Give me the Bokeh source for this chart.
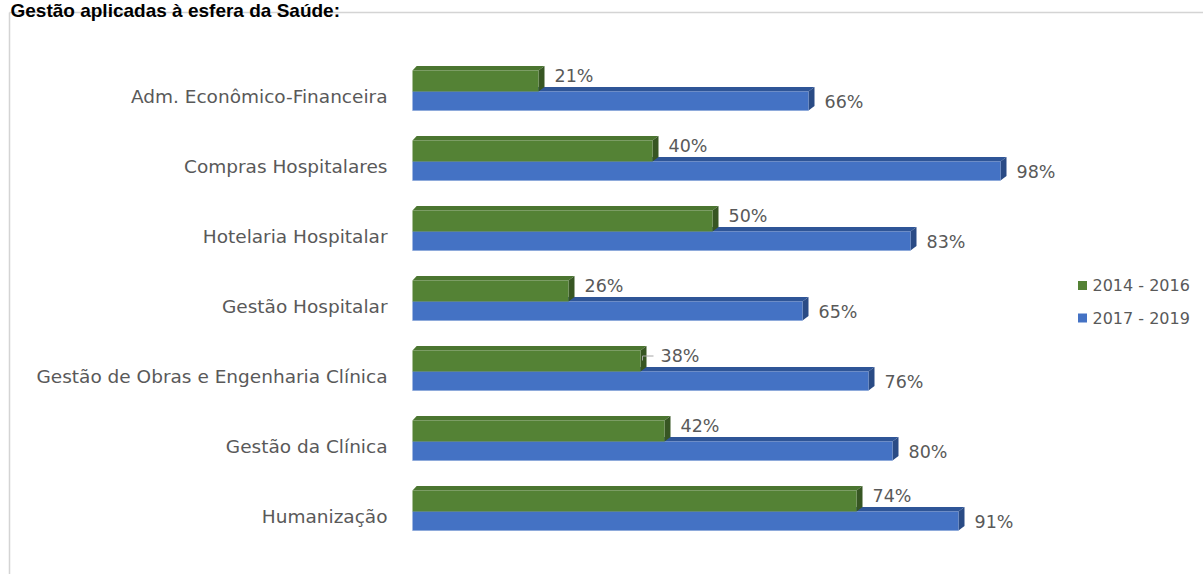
from bokeh.plotting import figure
from bokeh.models import Range1d
from bokeh.core.properties import value
from bokeh.embed import file_html
from bokeh.resources import INLINE

# ---- data ----
categories = [
    "Adm. Econômico-Financeira",
    "Compras Hospitalares",
    "Hotelaria Hospitalar",
    "Gestão Hospitalar",
    "Gestão de Obras e Engenharia Clínica",
    "Gestão da Clínica",
    "Humanização",
]
series_names = ["2014 - 2016", "2017 - 2019"]
values_2014_2016 = [21, 40, 50, 26, 38, 42, 74]
values_2017_2019 = [66, 98, 83, 65, 76, 80, 91]
title_text = "Gestão aplicadas à esfera da Saúde:"

# ---- layout constants (pixels) ----
W, H = 1203, 574
X0_PX = 412          # pixel of 0 %
PX_PER_PCT = 6.0
ROW0_PX = 96         # pixel centre of first category
ROW_PX = 70

GREEN = "#548235"
GREEN_TOP = "#4b7530"
GREEN_SIDE = "#375623"
BLUE = "#4472C4"
BLUE_TOP = "#2F5597"
BLUE_SIDE = "#2a4b85"
TEXT = "#595959"


def dx(px):
    return px / PX_PER_PCT


def dy(px):
    return px / ROW_PX


def X(px):
    return (px - X0_PX) / PX_PER_PCT


def Y(px):
    return (px - ROW0_PX) / ROW_PX


p = figure(width=W, height=H, output_backend="svg", toolbar_location=None,
           x_range=Range1d(X(0), X(W)), y_range=Range1d(Y(H), Y(0)),
           min_border=0)
p.axis.visible = False
p.grid.visible = False
p.outline_line_color = None
p.background_fill_color = "white"

# frame of the chart area
p.segment(x0=[X(9), X(9)], y0=[Y(12), Y(12)], x1=[X(9), X(W)], y1=[Y(H), Y(12)],
          line_color="#d4d4d4", line_width=1.5)

# title (partly cut off at the top)
p.text(x=[X(10)], y=[Y(10)], text=[title_text], text_font=value("Liberation Sans"),
       text_font_style="bold", text_font_size="19px", text_color="black",
       text_baseline="alphabetic", text_align="left")

DEPTH_X = dx(6)
DEPTH_Y = dy(-4.5)


def bar_3d(i, v, top_px, bot_px, front, topc, side):
    yt = i + dy(top_px)
    yb = i + dy(bot_px)
    xs_top = [0, v, v + DEPTH_X, DEPTH_X * 0.7]
    ys_top = [yt, yt, yt + DEPTH_Y, yt + DEPTH_Y]
    xs_side = [v, v + DEPTH_X, v + DEPTH_X, v]
    ys_side = [yt, yt + DEPTH_Y, yb + DEPTH_Y, yb]
    return (xs_top, ys_top, topc), (xs_side, ys_side, side), (0, v, yt, yb, front)


xs, ys, cs = [], [], []
for i in range(len(categories)):
    for v, (tp, bt), (fc, tc, sc) in [
        (values_2017_2019[i], (-5, 14), (BLUE, BLUE_TOP, BLUE_SIDE)),
        (values_2014_2016[i], (-26, -5), (GREEN, GREEN_TOP, GREEN_SIDE)),
    ]:
        t, s, f = bar_3d(i, v, tp, bt, fc, tc, sc)
        xs += [t[0], s[0]]
        ys += [t[1], s[1]]
        cs += [t[2], s[2]]
        xs.append([f[0], f[1], f[1], f[0]])
        ys.append([f[2], f[2], f[3], f[3]])
        cs.append(f[4])

p.patches(xs=xs, ys=ys, fill_color=cs, line_color=None)

# bottom highlight of blue bars
p.segment(x0=[0] * 7, x1=values_2017_2019,
          y0=[i + dy(14) for i in range(7)], y1=[i + dy(14) for i in range(7)],
          line_color="#8eaadb", line_width=1)

# category labels
p.text(x=[X(387)] * len(categories), y=list(range(len(categories))), text=categories,
       text_font=value("DejaVu Sans"), text_font_size="18.5px", text_color=TEXT,
       text_align="right", text_baseline="middle")

# value labels
g_lab_x = []
for i, v in enumerate(values_2014_2016):
    g_lab_x.append(v + dx(16) + (dx(4) if i == 4 else 0))
p.text(x=g_lab_x, y=[i + dy(-20.5) for i in range(7)],
       text=[f"{v}%" for v in values_2014_2016],
       text_font=value("DejaVu Sans"), text_font_size="17.5px", text_color=TEXT,
       text_align="left", text_baseline="middle")
p.text(x=[v + dx(16) for v in values_2017_2019], y=[i + dy(5) for i in range(7)],
       text=[f"{v}%" for v in values_2017_2019],
       text_font=value("DejaVu Sans"), text_font_size="17.5px", text_color=TEXT,
       text_align="left", text_baseline="middle")

# leader line for the 38 % label
li = 4
lv = values_2014_2016[li]
p.line(x=[lv + dx(2), lv + dx(2), lv + dx(13)],
       y=[li + dy(-16), li + dy(-20.5), li + dy(-20.5)],
       line_color="#a6a6a6", line_width=1)

# legend
p.scatter(x=[X(1082), X(1082)], y=[Y(285), Y(317.5)], marker="square", size=9,
          fill_color=[GREEN, BLUE], line_color=None)
p.text(x=[X(1092), X(1092)], y=[Y(284.5), Y(317.5)], text=series_names,
       text_font=value("DejaVu Sans"), text_font_size="16px", text_color=TEXT,
       text_align="left", text_baseline="middle")

open("out.html", "w").write(file_html(p, INLINE))
